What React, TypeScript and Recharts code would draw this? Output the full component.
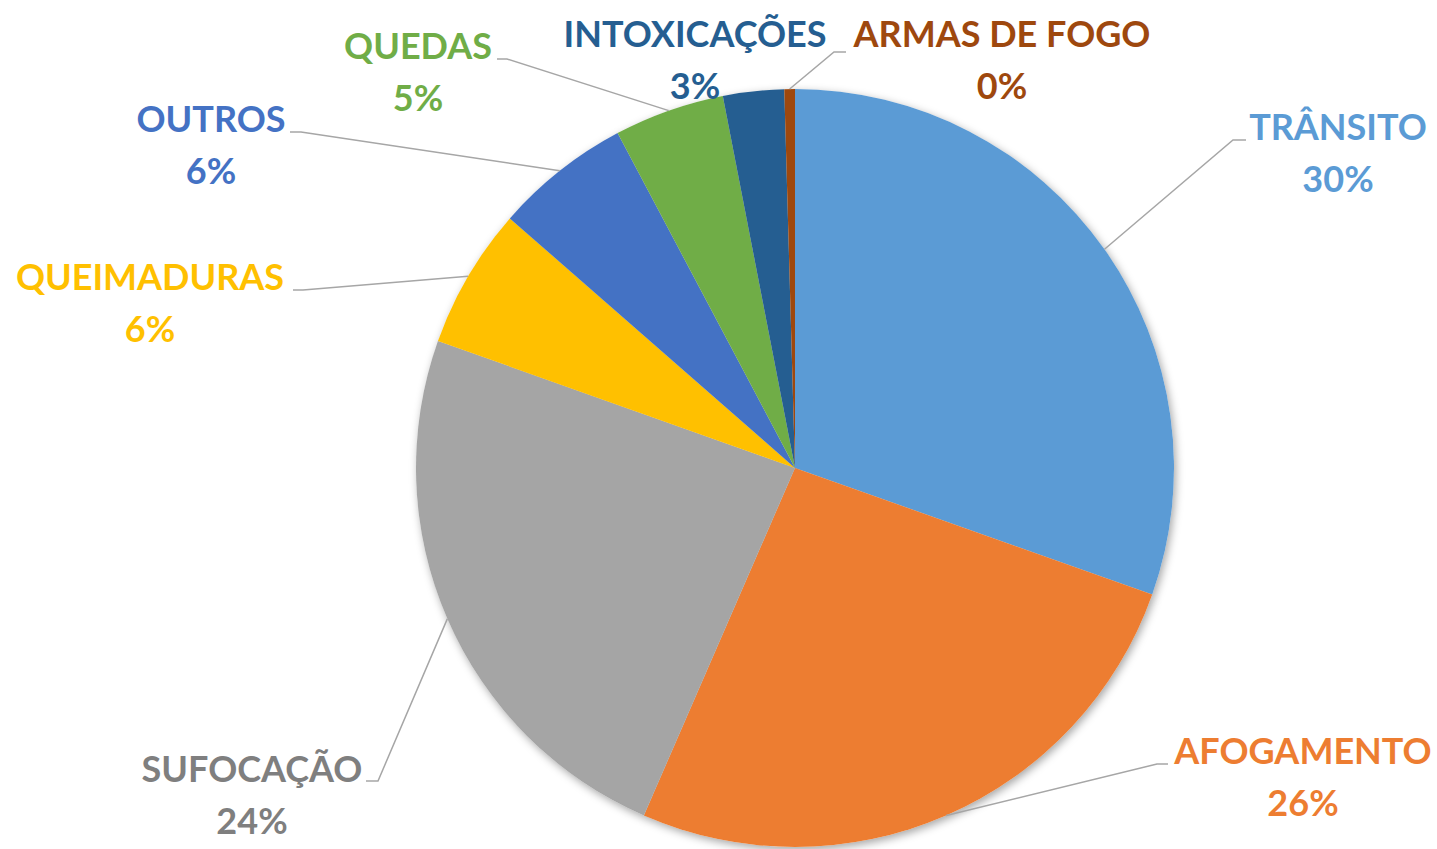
import { PieChart, Pie, Cell } from "recharts";

const causes = [
  "TRÂNSITO",
  "AFOGAMENTO",
  "SUFOCAÇÃO",
  "QUEIMADURAS",
  "OUTROS",
  "QUEDAS",
  "INTOXICAÇÕES",
  "ARMAS DE FOGO",
];
const shares = [30.4, 26.1, 23.9, 6.0, 5.8, 4.7, 2.6, 0.45];

const sliceColors = [
  "#5B9BD5",
  "#ED7D31",
  "#A5A5A5",
  "#FFC000",
  "#4472C4",
  "#70AD47",
  "#255E91",
  "#9E480E",
];
const labelColors = [
  "#5B9BD5",
  "#ED7D31",
  "#7F7F7F",
  "#FFC000",
  "#4472C4",
  "#70AD47",
  "#255E91",
  "#9E480E",
];

// where each label sits: text centre, first baseline, leader elbow and end
const labelSpots: {
  x: number;
  y: number;
  elbow: [number, number] | null;
  end: [number, number] | null;
}[] = [
  { x: 1338, y: 140, elbow: [1233, 140], end: [1246, 140] },
  { x: 1303, y: 764, elbow: [1157, 764], end: [1168, 764] },
  { x: 252, y: 782, elbow: [378, 781], end: [366, 781] },
  { x: 150, y: 290, elbow: [303, 290], end: [293, 290] },
  { x: 211, y: 132, elbow: [301, 132], end: [290, 132] },
  { x: 418, y: 59, elbow: [507, 59], end: [497, 59] },
  { x: 695, y: 47, elbow: null, end: null },
  { x: 1002, y: 47, elbow: [834, 52], end: [846, 52] },
];

const data = causes.map((name, i) => ({ name, value: shares[i] }));

const RAD = Math.PI / 180;
const FONT = "Lato, 'Open Sans', sans-serif";

function renderLabel(props: any) {
  const { cx, cy, midAngle, outerRadius, percent, index } = props;
  const spot = labelSpots[index];
  if (!spot) return null;
  const sx = cx + outerRadius * Math.cos(-midAngle * RAD);
  const sy = cy + outerRadius * Math.sin(-midAngle * RAD);
  const color = labelColors[index];
  return (
    <g key={`lbl-${index}`}>
      {spot.elbow && spot.end && (
        <polyline
          points={`${sx},${sy} ${spot.elbow[0]},${spot.elbow[1]} ${spot.end[0]},${spot.end[1]}`}
          fill="none"
          stroke="#A6A6A6"
          strokeWidth={1.5}
        />
      )}
      <text
        x={spot.x}
        y={spot.y}
        textAnchor="middle"
        fill={color}
        fontFamily={FONT}
        fontWeight={700}
        fontSize={36}
      >
        {causes[index]}
      </text>
      <text
        x={spot.x}
        y={spot.y + 52}
        textAnchor="middle"
        fill={color}
        fontFamily={FONT}
        fontWeight={700}
        fontSize={36}
      >
        {Math.round(percent * 100)}%
      </text>
    </g>
  );
}

export default function App() {
  return (
    <div
      style={{
        position: "absolute",
        left: 0,
        top: 0,
        width: 1437,
        height: 849,
        background: "#fff",
      }}
    >
      <style>{`.pie-shadow .recharts-sector { filter: drop-shadow(2px 3px 4px rgba(0,0,0,0.35)); }`}</style>
      <PieChart width={1437} height={849} margin={{ top: 0, right: 0, bottom: 0, left: 0 }}>
        <Pie
          className="pie-shadow"
          data={data}
          dataKey="value"
          nameKey="name"
          cx={795}
          cy={468}
          outerRadius={379}
          startAngle={90}
          endAngle={-270}
          fill="#fff"
          stroke="none"
          labelLine={false}
          isAnimationActive={false}
        />
        <Pie
          data={data}
          dataKey="value"
          nameKey="name"
          cx={795}
          cy={468}
          outerRadius={379}
          startAngle={90}
          endAngle={-270}
          stroke="none"
          label={renderLabel}
          labelLine={false}
          isAnimationActive={false}
        >
          {data.map((d, i) => (
            <Cell key={d.name} fill={sliceColors[i]} />
          ))}
        </Pie>
      </PieChart>
    </div>
  );
}
